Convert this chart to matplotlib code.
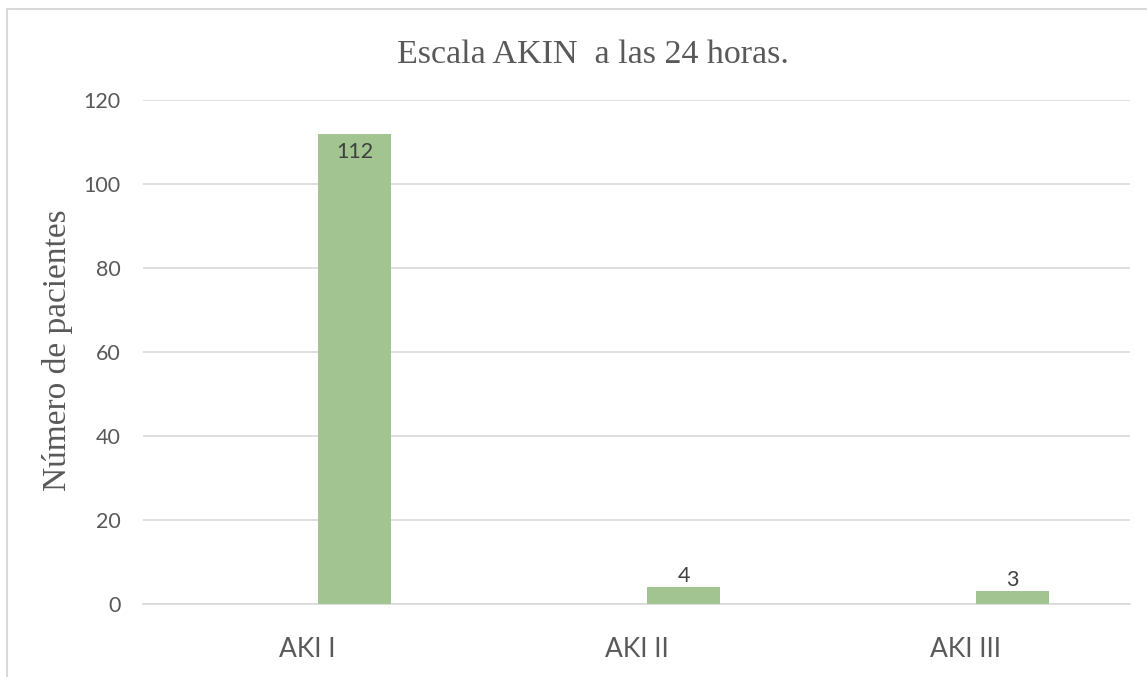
import matplotlib.pyplot as plt
from matplotlib.patches import Rectangle

# Datos del gráfico
categorias = ['AKI I', 'AKI II', 'AKI III']
pacientes = [112, 4, 3]
yticks = [0, 20, 40, 60, 80, 100, 120]

verde = '#A1C490'
gris = '#595959'

fig = plt.figure(figsize=(11.47, 6.77), dpi=100)
ax = fig.add_axes([143 / 1147, 1 - 604 / 677, 987 / 1147, 504 / 677])

x = list(range(len(categorias)))
# la barra queda desplazada a la derecha del centro de la categoría
offset = 0.032
ancho = 0.222
barras = ax.bar([i + offset for i in x], pacientes, width=ancho, align='edge',
                color=verde, zorder=3)

for b, v in zip(barras, pacientes):
    cx = b.get_x() + b.get_width() / 2
    if v > 20:
        ax.text(cx, v - 2.0, str(v), ha='center', va='top', fontsize=15.5,
                color='#404040', family='Lato', zorder=4)
    else:
        ax.text(cx, v + 0.3, str(v), ha='center', va='bottom', fontsize=15.5,
                color='#404040', family='Lato', zorder=4)

ax.set_xlim(-0.5, 2.5)
ax.set_ylim(0, 120)
ax.set_yticks(yticks)
ax.set_yticklabels([str(t) for t in yticks], fontsize=15.5, color=gris, family='Lato')
ax.set_xticks(x)
ax.set_xticklabels(categorias, fontsize=19, color=gris, family='Lato')
ax.tick_params(axis='both', length=0)
ax.tick_params(axis='y', pad=16)
ax.tick_params(axis='x', pad=24)

ax.grid(axis='y', color='#D9D9D9', linewidth=1.2, zorder=0)
for s in ['top', 'right', 'left']:
    ax.spines[s].set_visible(False)
ax.spines['bottom'].set_color('#D9D9D9')
ax.spines['bottom'].set_linewidth(1.2)

fig.text(593 / 1147, 1 - 55 / 677, 'Escala AKIN  a las 24 horas.', ha='center', va='center',
         fontsize=24.5, color=gris, family='Liberation Serif')
fig.text(58 / 1147, 1 - 350 / 677, 'Número de pacientes', ha='center', va='center',
         rotation=90, fontsize=24, color=gris, family='Liberation Serif')

# marco del área del gráfico
fig.patches.append(Rectangle((7 / 1147, -0.01), 1.02, 1 - 9 / 677 + 0.01,
                             transform=fig.transFigure, fill=False,
                             edgecolor='#D9D9D9', linewidth=1.5))

fig.savefig('out.png', dpi=100)
